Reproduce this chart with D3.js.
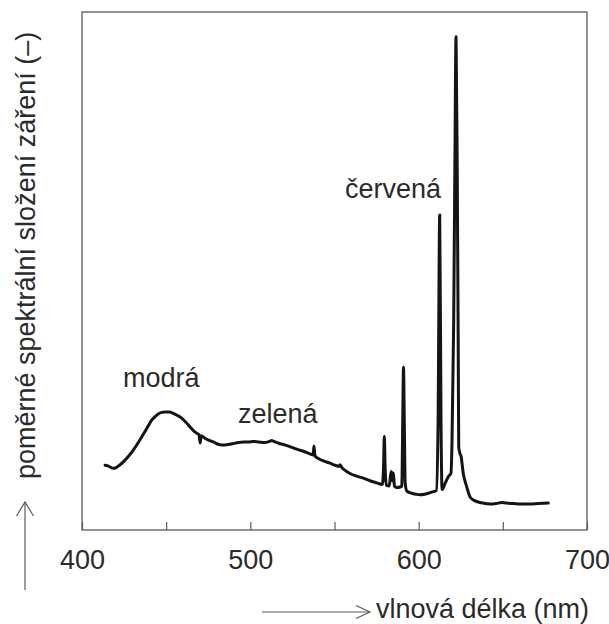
<!DOCTYPE html>
<html>
<head>
<meta charset="utf-8">
<script src="https://cdn.jsdelivr.net/npm/d3@7/dist/d3.min.js"></script>
<style>
  html, body { margin: 0; padding: 0; background: #fff; }
  svg { display: block; }
  text { font-family: "Liberation Sans", Arial, Helvetica, sans-serif; }
</style>
</head>
<body>
<svg id="chart" width="609" height="624"></svg>
<script>
// ---- data ----
const wavelength = [
  413.7, 416, 418.6, 420.5, 422.6, 425, 427.5, 430, 432.5, 435, 437.4, 439.5, 441.4, 443.4, 445.3, 447.3,
  449.3, 451.8, 454.2, 456.7, 459.2, 461.7, 464.2, 466.2, 468.1, 469.5, 470.2, 470.8, 473, 475.5, 478,
  480.5, 483, 486.9, 490, 492.9, 495.9, 498.8, 501.8, 505, 508.7, 511.5, 512.7, 514, 516.5, 519.6, 523.5,
  527.5, 531.5, 535.5, 537.3, 537.8, 538.4, 540.4, 543.8, 547.3, 550.3, 552.8, 553.3, 554.5, 556.3, 559.2,
  563.2, 567.1, 571, 575.1, 578.5, 579.1, 579.6, 580.1, 580.8, 582.5, 583.3, 583.8, 584.4, 585.0, 585.6,
  587, 589, 590, 590.5, 591.0, 591.5, 592.0, 593, 595.8, 598.5, 600.8, 603.5, 605.7, 608.7, 610.5, 611.5,
  612.5, 613.3, 613.9, 615.7, 617.6, 619.2, 619.8, 620.8, 621.5, 622.2, 622.9, 623.5, 623.8, 624.5, 625.2,
  626.5, 628.5, 630.5, 632.5, 634.5, 638, 642.4, 646, 649.3, 652, 656.2, 661, 666.1, 671, 677
];
const intensity = [
  12.5, 12.3, 11.9, 12.1, 12.6, 13.3, 14.2, 15.2, 16.4, 17.7, 19.0, 20.2, 21.2, 21.9, 22.4, 22.7,
  22.8, 22.8, 22.5, 22.1, 21.6, 20.8, 19.9, 19.2, 18.7, 18.4, 16.8, 18.2, 17.7, 17.3, 17.0,
  16.6, 16.4, 16.5, 16.7, 16.9, 17.0, 17.0, 17.1, 17.0, 16.9, 17.1, 17.3, 17.1, 16.8, 16.5, 16.1,
  15.6, 15.2, 14.7, 14.5, 16.2, 14.3, 13.8, 13.3, 12.9, 12.5, 12.3, 12.6, 12.0, 11.5, 10.9,
  10.4, 10.0, 9.5, 9.1, 8.8, 12.0, 18.1, 12.0, 8.6, 8.5, 10.5, 11.3, 9.5, 11.0, 8.5,
  8.2, 8.3, 8.5, 20.0, 31.4, 20.0, 9.0, 7.5, 7.1, 6.9, 6.8, 6.9, 7.1, 7.4, 7.6, 20.0,
  60.8, 20.0, 7.8, 9.0, 10.3, 11.0, 17.0, 40.0, 70.0, 95.2, 70.0, 35.0, 16.0, 14.8, 14.2,
  10.9, 8.4, 6.4, 5.8, 5.5, 5.2, 5.0, 5.1, 5.3, 5.2, 5.1, 5.0, 5.0, 5.1, 5.2
];
const xDomain = [400, 700];
const yDomain = [0, 100];
const xTicks = [400, 450, 500, 550, 600, 650, 700];
const xTickLabels = [400, 500, 600, 700];
const annotationText = ["modrá", "zelená", "červená"];
const annotationWavelength = [424.4, 492.7, 556.2];
const annotationLevel = [27.6, 20.7, 64.1];
const xTitle = "vlnová délka (nm)";
const yTitle = "poměrné spektrální složení záření (–)";

// ---- layout ----
const svg = d3.select("#chart");
const L = 82, R = 587, T = 12, B = 530;
const x = d3.scaleLinear().domain(xDomain).range([L, R]);
const y = d3.scaleLinear().domain(yDomain).range([B, T]);
const textColor = "#2b2b2b";
const frameColor = "#5a5a5a";
const fs = 27;

// frame
svg.append("rect")
  .attr("x", L).attr("y", T).attr("width", R - L).attr("height", B - T)
  .attr("fill", "none").attr("stroke", frameColor).attr("stroke-width", 1.3);

// bottom axis with inward ticks
const axis = d3.axisBottom(x)
  .tickValues(xTicks)
  .tickSize(-8)
  .tickPadding(20)
  .tickFormat(d => xTickLabels.includes(d) ? String(d) : "");
const gx = svg.append("g").attr("transform", `translate(0,${B})`).call(axis);
gx.select(".domain").remove();
gx.selectAll(".tick line").attr("stroke", frameColor).attr("stroke-width", 1.2);
gx.selectAll(".tick text")
  .attr("fill", textColor)
  .style("font-size", fs + "px")
  .style("font-family", '"Liberation Sans", Arial, sans-serif');

// spectrum line
const pts = wavelength.map((w, i) => [w, intensity[i]]);
const line = d3.line()
  .x(d => x(d[0]))
  .y(d => y(d[1]))
  .curve(d3.curveMonotoneX);
svg.append("path")
  .datum(pts)
  .attr("d", line)
  .attr("fill", "none")
  .attr("stroke", "#141414")
  .attr("stroke-width", 3)
  .attr("stroke-linejoin", "round")
  .attr("stroke-linecap", "round");

// annotations
annotationText.forEach((t, i) => {
  svg.append("text")
    .attr("x", x(annotationWavelength[i]))
    .attr("y", y(annotationLevel[i]))
    .attr("fill", textColor)
    .style("font-size", fs + "px")
    .text(t);
});

// x title with arrow
svg.append("line")
  .attr("x1", 262).attr("y1", 612).attr("x2", 369).attr("y2", 612)
  .attr("stroke", frameColor).attr("stroke-width", 1.2);
svg.append("path")
  .attr("d", "M356,605.5 L370,612 L356,618.5")
  .attr("fill", "none").attr("stroke", frameColor).attr("stroke-width", 1.2);
svg.append("text")
  .attr("x", 376).attr("y", 618)
  .attr("fill", textColor)
  .style("font-size", fs + "px")
  .text(xTitle);

// y title with arrow
svg.append("line")
  .attr("x1", 25).attr("y1", 590).attr("x2", 25).attr("y2", 502)
  .attr("stroke", frameColor).attr("stroke-width", 1.2);
svg.append("path")
  .attr("d", "M16.5,516 L25,502 L33.5,516")
  .attr("fill", "none").attr("stroke", frameColor).attr("stroke-width", 1.2);
svg.append("text")
  .attr("transform", "translate(35,479) rotate(-90)")
  .attr("fill", textColor)
  .style("font-size", fs + "px")
  .text(yTitle);
</script>
</body>
</html>
